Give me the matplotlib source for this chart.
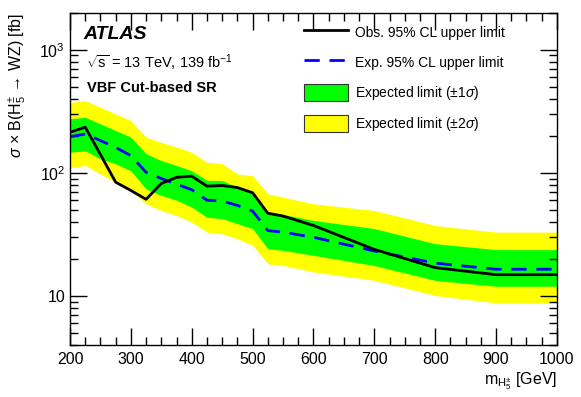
import matplotlib
matplotlib.use("Agg")
import matplotlib.pyplot as plt
from matplotlib.ticker import MultipleLocator, LogLocator, FixedLocator, FixedFormatter, NullFormatter
from matplotlib.lines import Line2D
from matplotlib.patches import Patch

plt.rcParams['font.family'] = ['Liberation Sans', 'DejaVu Sans']
plt.rcParams['mathtext.fontset'] = 'custom'
plt.rcParams['mathtext.rm'] = 'Liberation Sans'
plt.rcParams['mathtext.it'] = 'Liberation Sans:italic'
plt.rcParams['mathtext.bf'] = 'Liberation Sans:bold'

# ---- data ----
mass = [200, 225, 250, 275, 300, 325, 350, 375, 400, 425, 450, 475, 500, 525, 550, 600, 700, 800, 900, 1000]
observed = [214, 235, 141, 84, 72, 61, 82, 92, 94, 78, 79, 76, 69, 47, 44.6, 37.4, 23.9, 17.0, 14.9, 14.9]
expected = [197, 207, 183, 161, 138, 101, 90, 81, 73, 60, 59, 54.5, 49, 34, 33, 30, 23.2, 18.5, 16.5, 16.5]
plus2 = [374, 386, 341, 301, 266, 195, 177, 162, 147, 122, 119, 98, 95, 67.6, 63.5, 56.1, 49.5, 37.4, 33, 33]
plus1 = [275, 283, 250, 221, 195, 143, 126, 115, 104, 87, 86.7, 76.5, 69.7, 48, 46, 41.1, 35.3, 26.6, 23.8, 23.8]
minus1 = [147, 151, 130, 118.6, 104, 74, 65.6, 60, 52.7, 43.7, 42.5, 38.7, 35.3, 24.2, 23.5, 21.4, 17.7, 13.4, 12, 12]
minus2 = [110, 115, 98, 84, 72, 56, 49.5, 45, 39.8, 33, 32, 29.2, 25.8, 18.3, 17.7, 15.7, 13.4, 10.1, 8.8, 8.8]

legend_labels = ["Obs. 95% CL upper limit", "Exp. 95% CL upper limit",
                 r"Expected limit ($\pm$1$\sigma$)", r"Expected limit ($\pm$2$\sigma$)"]

fig = plt.figure(figsize=(5.81, 3.97), dpi=100)
ax = fig.add_axes([0.1205, 0.131, 0.838, 0.837])

ax.fill_between(mass, minus2, plus2, color='#ffff00', linewidth=0)
ax.fill_between(mass, minus1, plus1, color='#00ff00', linewidth=0)
ax.plot(mass, expected, color='#0000ff', linestyle=(0, (5.5, 3.5)), linewidth=2)
ax.plot(mass, observed, color='black', linewidth=2)

ax.set_yscale('log')
ax.set_xlim(200, 1000)
ax.set_ylim(4, 2000)

ax.xaxis.set_major_locator(MultipleLocator(100))
ax.xaxis.set_minor_locator(MultipleLocator(25))
ax.yaxis.set_major_locator(FixedLocator([10, 100, 1000]))
ax.yaxis.set_major_formatter(FixedFormatter(["10", r"$10^{2}$", r"$10^{3}$"]))
ax.yaxis.set_minor_locator(LogLocator(base=10, subs=range(2, 10)))
ax.yaxis.set_minor_formatter(NullFormatter())

ax.tick_params(which='both', direction='in', top=True, right=True, labelsize=11.5, width=1)
ax.tick_params(which='major', length=12)
ax.tick_params(which='minor', length=6)
ax.tick_params(axis='x', which='major', pad=5)
for s in ax.spines.values():
    s.set_linewidth(1)

ax.set_ylabel(r"$\sigma$ × B(H$_{5}^{\pm}$ → WZ) [fb]", fontsize=11.5, loc='top', labelpad=8)
ax.set_xlabel(r"m$_{\mathregular{H_5^{\pm}}}$ [GeV]", fontsize=11.5, loc='right', labelpad=2)

ax.text(0.028, 0.935, "ATLAS", transform=ax.transAxes, fontsize=14, fontweight='bold', style='italic', va='center')
ax.text(0.032, 0.85, r"$\sqrt{\mathregular{s}}$ = 13 TeV, 139 fb$^{-1}$", transform=ax.transAxes, fontsize=10.5, va='center')
ax.text(0.034, 0.772, "VBF Cut-based SR", transform=ax.transAxes, fontsize=10.5, fontweight='bold', va='center')

handles = [Line2D([], [], color='black', linewidth=2),
           Line2D([], [], color='#0000ff', linewidth=2, linestyle=(0, (5.5, 3.5))),
           Patch(facecolor='#00ff00', edgecolor='#333333', linewidth=0.8),
           Patch(facecolor='#ffff00', edgecolor='#333333', linewidth=0.8)]
ax.legend(handles, legend_labels, loc='upper left', bbox_to_anchor=(0.455, 1.005), frameon=False,
          fontsize=10, handlelength=3.2, handleheight=1.5, labelspacing=0.95, handletextpad=0.5)

fig.savefig("out.png", dpi=100)
